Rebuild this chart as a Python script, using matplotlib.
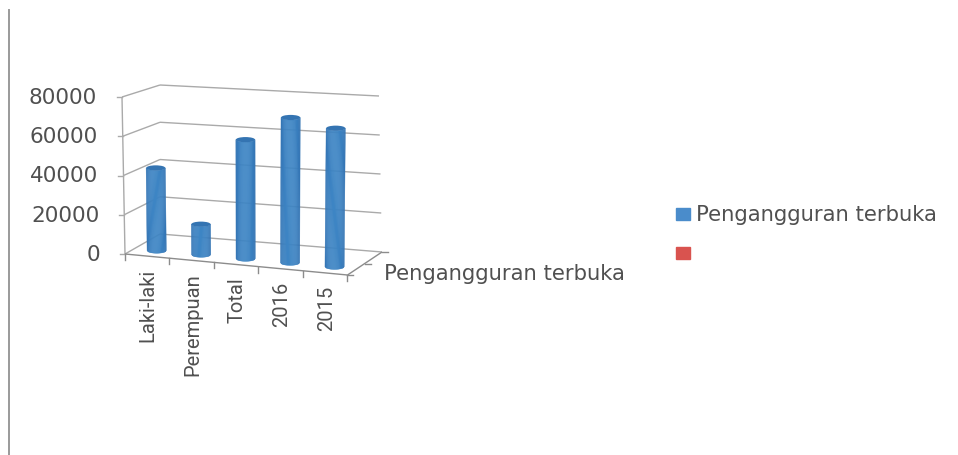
import numpy as np
import matplotlib
matplotlib.use("Agg")
import matplotlib.pyplot as plt
from matplotlib.patches import Patch, Ellipse

categories = ["Laki-laki", "Perempuan", "Total", "2016", "2015"]
values = [42500, 15500, 60000, 72500, 68500]
y_ticks = [0, 20000, 40000, 60000, 80000]
series_name = "Pengangguran terbuka"

y_max = 80000
bar_depth = 0.27  # bars stand a bit in front of the middle of the floor

# Corners of the 3d box as they show up on the page, in pixels
FLB = np.array([125.0, 254.0])
FLT = np.array([122.0, 97.0])
FRB = np.array([347.5, 275.0])
FRT = np.array([351.0, 110.0])
BLB = np.array([160.0, 234.0])
BLT = np.array([160.0, 85.0])
BRB = np.array([382.0, 252.0])
BRT = np.array([379.0, 96.0])

text_col = "#505050"
grid_col = "#aaaaaa"


# u goes left to right, v is the value, d goes front to back
def project(u, v, d):
    t = v / y_max
    front_l = FLB + (FLT - FLB) * t
    front_r = FRB + (FRT - FRB) * t
    back_l = BLB + (BLT - BLB) * t
    back_r = BRB + (BRT - BRB) * t
    front = front_l + (front_r - front_l) * u
    back = back_l + (back_r - back_l) * u
    return front + (back - front) * d


def line3d(ax, a, b, color=grid_col, lw=1.0):
    p = project(*a)
    q = project(*b)
    ax.plot([p[0], q[0]], [p[1], q[1]], color=color, lw=lw, solid_capstyle="butt")


def cylinder(ax, u, value, half_w=9.6, minor=2.6):
    bottom = project(u, 0, bar_depth)
    top = project(u, value, bar_depth)
    dark = np.array([0.20, 0.45, 0.70])
    light = np.array([0.24, 0.52, 0.77])
    edges = np.linspace(-1, 1, 19)
    for a, b in zip(edges[:-1], edges[1:]):
        s = (a + b) / 2
        col = dark + (light - dark) * (1 - abs(s) ** 3)
        xs = []
        ys = []
        for e in (a, b):
            xs.append(bottom[0] + e * half_w)
            ys.append(bottom[1] + minor * np.sqrt(1 - e ** 2))
        for e in (b, a):
            xs.append(top[0] + e * half_w)
            ys.append(top[1] + minor * np.sqrt(1 - e ** 2))
        ax.fill(xs, ys, color=col, lw=0.3, zorder=3)
    ax.add_patch(Ellipse(top, 2 * half_w, 2 * minor, color="#3474b2", lw=0, zorder=4))


fig = plt.figure(figsize=(9.58, 4.55), dpi=100)
ax = fig.add_axes([0, 0, 1, 1])
ax.set_xlim(0, 958)
ax.set_ylim(455, 0)
ax.axis("off")

# scan edge on the left of the page
ax.plot([9, 9], [10, 455], color="#9a9a9a", lw=1.4)

# gridlines on the side and back walls
for v in y_ticks:
    line3d(ax, (0, v, 0), (0, v, 1))
    line3d(ax, (0, v, 1), (1, v, 1))
    p = project(0, v, 0)
    ax.plot([p[0] - 5, p[0]], [p[1], p[1]], color=grid_col, lw=1.0)
    ax.text(p[0] - 25, p[1] + 1, str(v), ha="right", va="center", fontsize=15.5,
            family="DejaVu Sans", color=text_col)

line3d(ax, (0, 0, 0), (0, y_max, 0))
line3d(ax, (0, 0, 0), (1, 0, 0), color="#8c8c8c")
line3d(ax, (1, 0, 0), (1, 0, 1), color="#8c8c8c")

# ticks under the front edge and on the depth edge
n = len(categories)
for k in range(n + 1):
    p = project(k / n, 0, 0)
    ax.plot([p[0], p[0]], [p[1], p[1] + 6], color="#8c8c8c", lw=1.0)
for d in (0, 0.5, 1):
    p = project(1, 0, d)
    ax.plot([p[0], p[0] + 6], [p[1], p[1]], color="#8c8c8c", lw=1.0)

for i, (cat, val) in enumerate(zip(categories, values)):
    u = (i + 0.5) / n
    cylinder(ax, u, val)
    p = project(u, 0, 0)
    ax.text(p[0] + 1, p[1] + 13, cat, rotation=90, ha="center", va="top", fontsize=14.5,
            family="Roboto", color=text_col)

p = project(1, 0, 0.5)
ax.text(p[0] + 19, p[1] + 10, series_name, ha="left", va="center", fontsize=15.2,
        family="DejaVu Sans", color=text_col)

handles = [Patch(color="#4a8ccb"), Patch(color="#d9534f")]
ax.legend(handles, [series_name, ""], loc="upper left", bbox_to_anchor=(676 / 958, 1 - 205.5 / 455),
          frameon=False, handlelength=0.67, handleheight=0.48, handletextpad=0.3,
          labelspacing=0.9, borderpad=0, borderaxespad=0, labelcolor=text_col,
          prop={"family": "DejaVu Sans", "size": 15.2})

fig.savefig("out.png", dpi=100)
